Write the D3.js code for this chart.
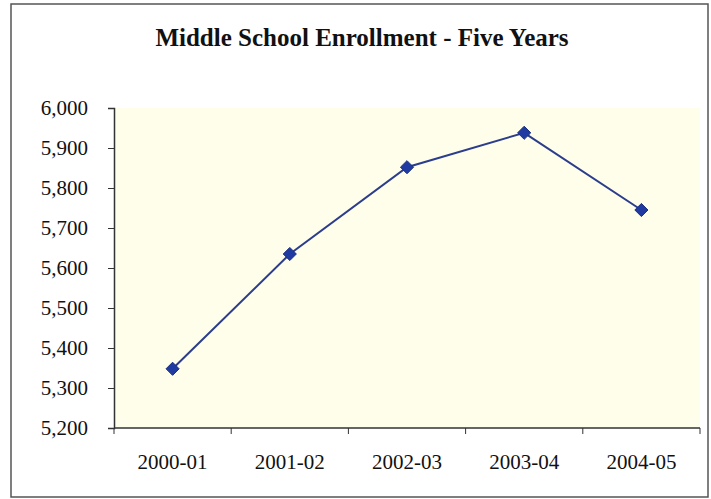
<!DOCTYPE html>
<html>
<head>
<meta charset="utf-8">
<script src="https://cdn.jsdelivr.net/npm/d3@7"></script>
<style>
	body { margin: 0; background: #fff; }
</style>
</head>
<body>
<div id="chart"></div>
<script>
var years = ["2000-01", "2001-02", "2002-03", "2003-04", "2004-05"]
var enrollment = [5348, 5635, 5852, 5938, 5745]
var yTicks = [5200, 5300, 5400, 5500, 5600, 5700, 5800, 5900, 6000]

var w = 711, h = 499,
	margins = {top: 108, bottom: 428, left: 114, right: 700},
	font = "'Liberation Serif', 'Times New Roman', serif",
	lineColor = "#2b3d8c",
	markerColor = "#1f3aa0"

var svg = d3.select("#chart").append("svg")
	.attr("width", w)
	.attr("height", h)
	.attr("font-family", font)

// outer frame
svg.append("rect")
	.attr("x", 11).attr("y", 4)
	.attr("width", 697).attr("height", 493)
	.attr("fill", "#fff")
	.attr("stroke", "#555")
	.attr("stroke-width", 1.5)

// plot background
svg.append("rect")
	.attr("x", margins.left).attr("y", margins.top)
	.attr("width", margins.right - margins.left)
	.attr("height", margins.bottom - margins.top)
	.attr("fill", "#fefeea")

var x = d3.scaleBand()
	.domain(years)
	.range([margins.left, margins.right])

var y = d3.scaleLinear()
	.domain([5200, 6000])
	.range([margins.bottom, margins.top])

// y axis
var yAxis = d3.axisLeft(y)
	.tickValues(yTicks)
	.tickSize(6)
	.tickFormat(d3.format(","))

var gy = svg.append("g")
	.attr("transform", "translate(" + margins.left + ",0)")
	.call(yAxis)
gy.attr("font-family", null).attr("font-size", null)
gy.select(".domain").attr("stroke", "#333").attr("stroke-width", 1.5)
gy.selectAll(".tick line").attr("stroke", "#333")
gy.selectAll(".tick text")
	.attr("x", -26)
	.attr("fill", "#111")
	.style("font-family", font)
	.style("font-size", "21px")

// x axis with ticks at band edges
var gx = svg.append("g")
	.attr("transform", "translate(0," + margins.bottom + ")")
gx.append("line")
	.attr("x1", margins.left).attr("x2", margins.right)
	.attr("stroke", "#333").attr("stroke-width", 1.5)
gx.selectAll(".edge")
	.data(years.concat(["end"]))
	.enter().append("line")
	.attr("x1", (d, i) => margins.left + i * x.bandwidth())
	.attr("x2", (d, i) => margins.left + i * x.bandwidth())
	.attr("y1", 0).attr("y2", 6)
	.attr("stroke", "#333")
gx.selectAll("text")
	.data(years)
	.enter().append("text")
	.attr("x", d => x(d) + x.bandwidth() / 2)
	.attr("y", 41)
	.attr("text-anchor", "middle")
	.style("font-size", "21px")
	.attr("fill", "#111")
	.text(d => d)

// line
var pts = years.map((d, i) => [x(d) + x.bandwidth() / 2, y(enrollment[i])])
svg.append("path")
	.attr("d", d3.line()(pts))
	.attr("fill", "none")
	.attr("stroke", lineColor)
	.attr("stroke-width", 2)

// markers
svg.selectAll(".marker")
	.data(pts)
	.enter().append("path")
	.attr("class", "marker")
	.attr("transform", d => "translate(" + d[0] + "," + d[1] + ")")
	.attr("d", d3.symbol().type(d3.symbolDiamond2).size(110))
	.attr("fill", markerColor)
	.attr("stroke", "#1a2f80")

// title
svg.append("text")
	.attr("x", 362)
	.attr("y", 46)
	.attr("text-anchor", "middle")
	.style("font-size", "25px")
	.attr("font-weight", "bold")
	.attr("fill", "#111")
	.text("Middle School Enrollment - Five Years")
</script>
</body>
</html>
